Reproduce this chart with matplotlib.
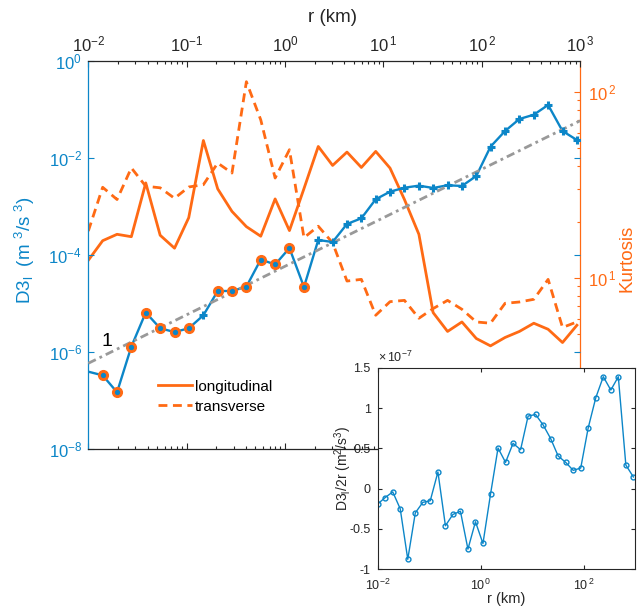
import numpy as np
import matplotlib
matplotlib.use('Agg')
import matplotlib.pyplot as plt
from matplotlib.ticker import LogLocator, NullLocator, FixedLocator, FuncFormatter, NullFormatter

plt.rcParams['font.family'] = ['Liberation Sans', 'DejaVu Sans']
plt.rcParams['mathtext.fontset'] = 'custom'
plt.rcParams['mathtext.rm'] = 'Liberation Sans'
plt.rcParams['mathtext.it'] = 'Liberation Sans:italic'
plt.rcParams['mathtext.bf'] = 'Liberation Sans:bold'

# ---------------- data ----------------
r_km = [0.01, 0.014, 0.0196, 0.0274, 0.0384, 0.0538, 0.0753, 0.105, 0.148, 0.207,
        0.289, 0.405, 0.567, 0.794, 1.11, 1.56, 2.18, 3.05, 4.27, 5.98,
        8.37, 11.7, 16.4, 23.0, 32.1, 45.0, 63.0, 88.2, 123, 173,
        242, 339, 474, 664, 930]

d3_abs = [3.93e-7, 3.30e-7, 1.48e-7, 1.29e-6, 6.52e-6, 3.08e-6, 2.58e-6, 3.08e-6, 5.71e-6, 1.81e-5,
          1.81e-5, 2.22e-5, 8.07e-5, 6.37e-5, 1.39e-4, 2.19e-5, 2.04e-4, 1.85e-4, 4.36e-4, 5.71e-4,
          1.41e-3, 2.02e-3, 2.44e-3, 2.69e-3, 2.41e-3, 2.74e-3, 2.65e-3, 4.26e-3, 1.71e-2, 3.60e-2,
          6.37e-2, 7.81e-2, 0.124, 3.60e-2, 2.35e-2]

# D3_l / 2r in units of 1e-7 m^2/s^3
d3_over_2r = [-0.19, -0.11, -0.04, -0.25, -0.876, -0.30, -0.17, -0.15, 0.207, -0.46,
              -0.32, -0.28, -0.75, -0.41, -0.68, -0.066, 0.504, 0.326, 0.562, 0.483,
              0.90, 0.92, 0.79, 0.62, 0.405, 0.326, 0.227, 0.256, 0.752, 1.128,
              1.388, 1.223, 1.388, 0.293, 0.145]

kurt_long = [12.4, 15.8, 17.1, 16.6, 32.3, 16.9, 14.4, 21.0, 54.6, 30.0,
             22.7, 18.8, 16.7, 26.5, 17.9, 30.1, 50.7, 40.1, 47.3, 39.1,
             47.7, 38.8, 26.3, 17.1, 6.49, 5.14, 5.78, 4.71, 4.30, 4.77,
             5.14, 5.69, 5.28, 4.48, 5.55]

kurt_trans = [17.8, 30.6, 26.3, 38.9, 31.0, 30.4, 26.7, 30.7, 31.6, 41.3,
              36.5, 113, 70.5, 34.3, 48.7, 16.4, 18.9, 15.4, 9.59, 9.79,
              6.28, 7.43, 7.55, 6.05, 6.82, 7.55, 6.76, 5.78, 5.69, 7.28,
              7.40, 7.65, 9.79, 5.40, 5.78]

ref_coef = 5.85e-5          # slope-1 reference line D3 = c * r
ref_r = [0.01, 1000]
legend_labels = ['longitudinal', 'transverse']

# ---------------- style ----------------
BLUE = '#0C86C8'
ORANGE = '#FF6A14'
DARK = '#262626'
W, H = 637, 611


def fx(p):
    return p / W


def fy(p):
    return 1 - p / H


def logfmt(v, pos):
    e = int(round(np.log10(v)))
    if e > 0:
        return r'$10^{\,%d}$' % e
    return r'$10^{%d}$' % e


r = np.array(r_km)
d3 = np.array(d3_abs)
val = np.array(d3_over_2r)

fig = plt.figure(figsize=(6.37, 6.11), dpi=100)
ax = fig.add_axes([fx(88.3), fy(449), fx(580) - fx(88.3), fy(61) - fy(449)])
ax2 = ax.twinx()
ax.set_zorder(ax2.get_zorder() + 1)
ax.patch.set_visible(False)

# kurtosis (right axis)
l1, = ax2.plot(r, kurt_long, color=ORANGE, lw=2.0)
l2, = ax2.plot(r, kurt_trans, color=ORANGE, lw=2.0, dashes=(3.2, 2))
ax2.set_yscale('log')
ax2.set_ylim(1.2, 146)
ax2.yaxis.set_major_locator(FixedLocator([10, 100]))
ax2.yaxis.set_minor_locator(LogLocator(base=10, subs=np.arange(2, 10), numticks=10))
ax2.yaxis.set_major_formatter(FuncFormatter(logfmt))
ax2.yaxis.set_minor_formatter(NullFormatter())
ax2.tick_params(axis='y', which='both', direction='in', colors=ORANGE, labelsize=12, pad=5.5, width=0.8)
ax2.tick_params(axis='y', which='major', length=4.5)
ax2.tick_params(axis='y', which='minor', length=2.5)
for s in ['left', 'top', 'bottom']:
    ax2.spines[s].set_visible(False)
ax2.spines['right'].set_color(ORANGE)
ax2.spines['right'].set_linewidth(0.9)

# structure function (left axis)
ax.plot(r, d3, color=BLUE, lw=1.7, zorder=3)
ax.plot(ref_r, [ref_coef * x for x in ref_r], color='#999999', lw=2.0,
        dashes=(3, 1.5, 1, 1.5), zorder=3.5)
neg = (val < 0) & (r > ref_r[0])
pos = val > 0
ax.plot(r[neg], d3[neg], 'o', ms=7, mfc=ORANGE, mec=ORANGE, zorder=4)
ax.plot(r[neg], d3[neg], 'o', ms=2.8, mfc=BLUE, mec=BLUE, zorder=5)
ax.plot(r[pos], d3[pos], '+', ms=6, mew=2.2, color=BLUE, zorder=4)
ax.text(0.0154, 1.63e-6, '1', fontsize=14, ha='center', va='center', color='black')

ax.set_xscale('log')
ax.set_yscale('log')
ax.set_xlim(1e-2, 1e3)
ax.set_ylim(1e-8, 1e0)
ax.xaxis.set_major_locator(LogLocator(base=10, numticks=10))
ax.xaxis.set_minor_locator(LogLocator(base=10, subs=np.arange(2, 10), numticks=10))
ax.xaxis.set_major_formatter(FuncFormatter(logfmt))
ax.xaxis.set_minor_formatter(NullFormatter())
ax.yaxis.set_major_locator(FixedLocator([1e-8, 1e-6, 1e-4, 1e-2, 1e0]))
ax.yaxis.set_minor_locator(NullLocator())
ax.yaxis.set_major_formatter(FuncFormatter(logfmt))
ax.tick_params(axis='x', which='both', top=True, bottom=True, labeltop=True, labelbottom=False,
               direction='in', colors=DARK, labelsize=12, pad=4.5, width=0.8)
ax.tick_params(axis='x', which='major', length=4.5)
ax.tick_params(axis='x', which='minor', length=2.5)
ax.tick_params(axis='y', which='both', left=True, right=True, labelleft=True, labelright=False,
               direction='in', colors=BLUE, labelsize=12, pad=4.5, width=0.8, length=4.5)
ax.spines['left'].set_color(BLUE)
ax.spines['right'].set_visible(False)
ax.spines['top'].set_color(DARK)
ax.spines['bottom'].set_color(DARK)
for s in ['left', 'top', 'bottom']:
    ax.spines[s].set_linewidth(0.9)

ax.legend([l1, l2], legend_labels, loc='center left', bbox_to_anchor=(fx(158), fy(396.7)),
          bbox_transform=fig.transFigure, frameon=False, fontsize=11, handlelength=2.2,
          handletextpad=0.2, borderpad=0, borderaxespad=0, labelspacing=0.38)

fig.text(fx(25), fy(250), r'D3$_{\rm l}$  (m $^3$/s $^3$)', rotation=90, color=BLUE,
         fontsize=13.5, ha='center', va='center')
fig.text(fx(627), fy(258), 'Kurtosis', rotation=90, color=ORANGE, fontsize=13.5,
         ha='center', va='center')
fig.text(fx(333), fy(18), 'r (km)', fontsize=13.5, ha='center', va='center', color=DARK)

# ---------------- inset ----------------
ax3 = fig.add_axes([fx(377.7), fy(569.3), fx(635) - fx(377.7), fy(367.7) - fy(569.3)])
ax3.set_zorder(10)
ax3.set_facecolor('white')
ax3.plot(r, val, '-o', color=BLUE, lw=1.0, ms=3.5, mfc='none', mew=1.0)
ax3.set_xscale('log')
ax3.set_xlim(1e-2, 1e3)
ax3.set_ylim(-1, 1.5)
ax3.xaxis.set_major_locator(FixedLocator([1e-2, 1e0, 1e2]))
ax3.xaxis.set_minor_locator(NullLocator())
ax3.xaxis.set_major_formatter(FuncFormatter(logfmt))
ax3.yaxis.set_major_locator(FixedLocator([-1, -0.5, 0, 0.5, 1, 1.5]))
ax3.yaxis.set_major_formatter(FuncFormatter(lambda v, p: ('%g' % v)))
ax3.tick_params(axis='both', which='both', direction='in', top=True, right=True,
                labelsize=9, length=3, width=0.8, colors=DARK)
ax3.tick_params(axis='x', pad=6)
ax3.tick_params(axis='y', pad=5)
for s in ax3.spines.values():
    s.set_color(DARK)
    s.set_linewidth(0.8)
ax3.text(0.0, 1.015, r'$\times\,10^{-7}$', transform=ax3.transAxes, ha='left', va='bottom',
         fontsize=9, color=DARK)
fig.text(fx(343), fy(468), r'D3$_{\rm l}$/2r (m$^2$/s$^3$)', rotation=90, fontsize=10,
         ha='center', va='center', color=DARK)
fig.text(fx(506), fy(599), 'r (km)', fontsize=10.5, ha='center', va='center', color=DARK)

fig.savefig('out.png', dpi=100)
